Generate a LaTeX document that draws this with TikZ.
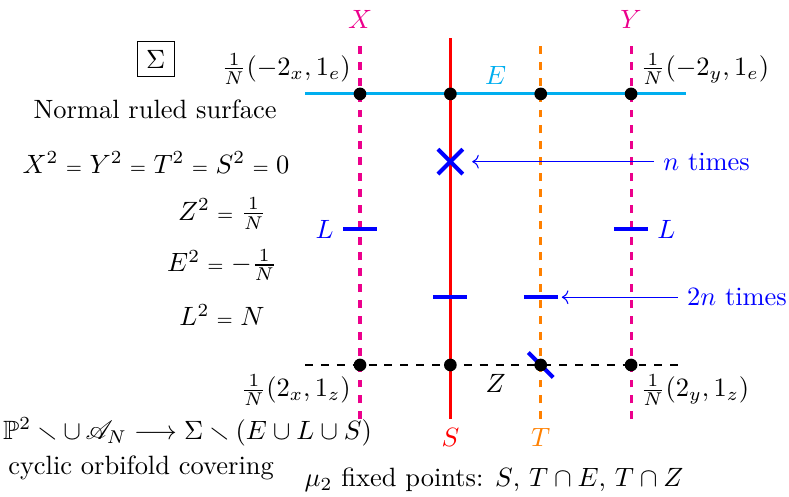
\documentclass[tikz,border=0pt]{standalone}
\usepackage{xcolor}
\usepackage{tikz}
\usetikzlibrary{arrows.meta, positioning, calc}
\usepackage{amsmath}
\usepackage{amssymb}
\usepackage{mathrsfs}
\definecolor{ecyan}{HTML}{00AEEF}
\definecolor{xpink}{HTML}{EC008C}
\definecolor{torange}{HTML}{FF8000}
\newcommand{\seq}{\mathrel{\scriptstyle=}}

\begin{document}
\begin{tikzpicture}[
    dot/.style={circle, fill=black, inner sep=0pt, minimum size=4.8pt},
    fib/.style={very thick, color=#1},
    fibd/.style={very thick, dashed, color=#1},
    mk/.style={blue, line width=1.5pt},
    ptr/.style={->, blue},
    eqn/.style={inner sep=0.5pt}
]
\useasboundingbox (-4.781,-1.740) rectangle (5.697,4.847);

% Fibres and sections
\coordinate (Xb) at (0,-0.72);   \coordinate (Xt) at (0,4.34);
\coordinate (Sb) at (1.2,-0.72); \coordinate (St) at (1.2,4.34);
\coordinate (Tb) at (2.4,-0.72); \coordinate (Tt) at (2.4,4.34);
\coordinate (Yb) at (3.6,-0.72); \coordinate (Yt) at (3.6,4.34);
\coordinate (El) at (-0.73,3.6); \coordinate (Er) at (4.33,3.6);
\coordinate (Zl) at (-0.73,0);   \coordinate (Zr) at (4.29,0);

\draw[fibd=xpink] (Xb) -- (Xt);
\draw[fibd=xpink] (Yb) -- (Yt);
\draw[fib=red] (Sb) -- (St);
\draw[fibd=torange] (Tb) -- (Tt);
\draw[fib=ecyan] (El) -- (Er);
\draw[dashed] (Zl) -- (Zr);

\node[above, xpink] (lX) at (Xt) {$X$};
\node[above, xpink] (lY) at (Yt) {$Y$};
\node[below, red] (lS) at (Sb) {$S$};
\node[below, torange] (lT) at (Tb) {$T$};
\node[above, ecyan] (lE) at (1.8,3.6) {$E$};
\node[below] (lZ) at (1.8,0) {$Z$};

% Marks
\draw[mk] (-0.225,1.8) -- (0.225,1.8);
\draw[mk] (3.375,1.8) -- (3.825,1.8);
\draw[mk] (0.975,0.9) -- (1.425,0.9);
\draw[mk] (2.175,0.9) -- (2.625,0.9);
\draw[mk] (1.035,2.865) -- (1.365,2.535);
\draw[mk] (1.035,2.535) -- (1.365,2.865);
\draw[mk] (2.235,0.165) -- (2.565,-0.165);
\node[left, blue] (lL1) at (-0.225,1.8) {$L$};
\node[right, blue] (lL2) at (3.825,1.8) {$L$};

% Points
\foreach \n/\x in {X/0, S/1.2, T/2.4, Y/3.6} {
  \node[dot] (\n E) at (\x,3.6) {};
  \node[dot] (\n Z) at (\x,0) {};
}
\node[above left] (qXE) at (XE) {$\frac{1}{N}(-2_x,1_e)$};
\node[above right] (qYE) at (YE) {$\frac{1}{N}(-2_y,1_e)$};
\node[below left] (qXZ) at (XZ) {$\frac{1}{N}(2_x,1_z)$};
\node[below right] (qYZ) at (YZ) {$\frac{1}{N}(2_y,1_z)$};

% Multiplicities
\node[right, blue] (nt) at (3.904,2.7) {$n$ times};
\node[right, blue] (tnt) at (4.219,0.9) {$2n$ times};
\coordinate (ntip) at (1.49,2.7);
\coordinate (tntip) at (2.68,0.9);
\draw[ptr] (nt.west) -- (ntip);
\draw[ptr] (tnt.west) -- (tntip);

% Data of the surface
\node[draw] (sig) at (-2.712,4.064) {$\Sigma$};
\node (nrs) at (-2.722,3.39) {Normal ruled surface};
\node[eqn] (sq0) at (-2.709,2.689) {$X^2 \seq Y^2 \seq T^2 \seq S^2 \seq 0$};
\node[eqn] (sqZ) at (-1.833,2.012) {$Z^2 \seq \frac{1}{N}$};
\node[eqn] (sqE) at (-1.833,1.328) {$E^2 \seq -\frac{1}{N}$};
\node[eqn] (sqL) at (-1.833,0.664) {$L^2 \seq N$};
\node (cov) at (-2.291,-0.89) {$\mathbb{P}^2 \smallsetminus \mathop{\cup} \mathscr{A}_N \longrightarrow \Sigma \smallsetminus (E \cup L \cup S)$};
\node (cyc) at (-2.908,-1.36) {cyclic orbifold covering};
\node (fix) at (1.78,-1.527) {$\mu_2$ fixed points: $S$, $T \cap E$, $T \cap Z$};
\end{tikzpicture}
\end{document}
